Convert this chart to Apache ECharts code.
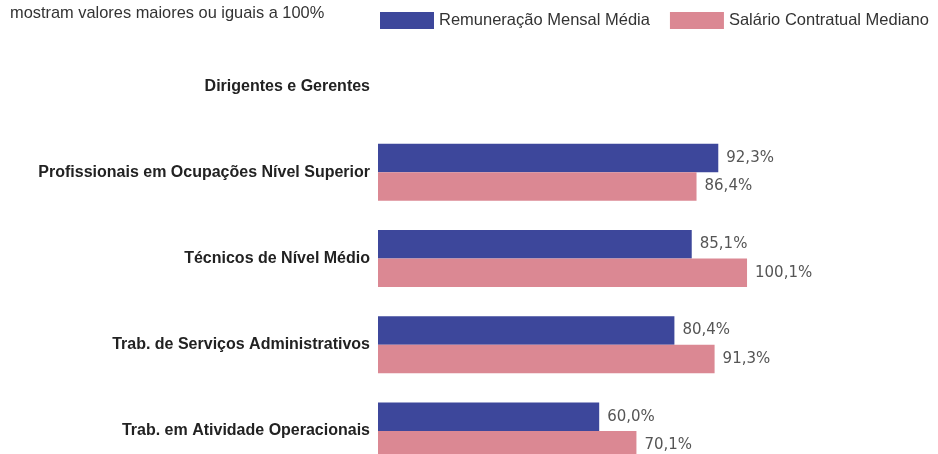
<!DOCTYPE html>
<html>
<head>
<meta charset="utf-8">
<script src="https://cdn.jsdelivr.net/npm/echarts@6/dist/echarts.min.js"></script>
<style>html,body{margin:0;padding:0;background:#fff;}#c{width:938px;height:454px;}</style>
</head>
<body>
<div id="c"></div>
<script>
var categories = ['Dirigentes e Gerentes', 'Profissionais em Ocupações Nível Superior', 'Técnicos de Nível Médio', 'Trab. de Serviços Administrativos', 'Trab. em Atividade Operacionais'];
var remuneracao = [null, 92.3, 85.1, 80.4, 60.0];
var salario = [null, 86.4, 100.1, 91.3, 70.1];
var seriesNames = ['Remuneração Mensal Média', 'Salário Contratual Mediano'];
var noteText = 'mostram valores maiores ou iguais a 100%';

function fmt(p) { return p.value == null ? '' : p.value.toFixed(1).replace('.', ',') + '%'; }

var chart = echarts.init(document.getElementById('c'));
chart.setOption({
  animation: false,
  backgroundColor: '#fff',
  graphic: [{
    type: 'text', left: 10, top: 5,
    style: { text: noteText, font: '16.4px Arial, "Liberation Sans"', fill: '#333' }
  }],
  legend: {
    left: 375, top: 7,
    itemWidth: 54, itemHeight: 17, itemGap: 20, icon: 'rect',
    textStyle: { fontFamily: 'Arial, "Liberation Sans"', fontSize: 16.5, color: '#333' },
    data: seriesNames
  },
  grid: { left: 378, top: 43, width: 553, height: 431, containLabel: false, outerBoundsMode: 'none' },
  xAxis: { type: 'value', min: 0, max: 150, show: false },
  yAxis: {
    type: 'category', inverse: true, data: categories,
    axisLine: { show: false }, axisTick: { show: false }, splitLine: { show: false },
    axisLabel: { margin: 8, fontFamily: 'Arial, "Liberation Sans"', fontWeight: 'bold', fontSize: 16, color: '#222' }
  },
  series: [{
    name: seriesNames[0], type: 'bar', data: remuneracao, barWidth: 28.5, barGap: '0%',
    itemStyle: { color: '#3d479b' },
    label: { show: true, position: 'right', distance: 8, formatter: fmt, fontFamily: '"DejaVu Sans", Verdana', fontSize: 15, color: '#555' }
  }, {
    name: seriesNames[1], type: 'bar', data: salario, barWidth: 28.5, barGap: '0%',
    itemStyle: { color: '#db8893' },
    label: { show: true, position: 'right', distance: 8, formatter: fmt, fontFamily: '"DejaVu Sans", Verdana', fontSize: 15, color: '#555' }
  }]
});
</script>
</body>
</html>
